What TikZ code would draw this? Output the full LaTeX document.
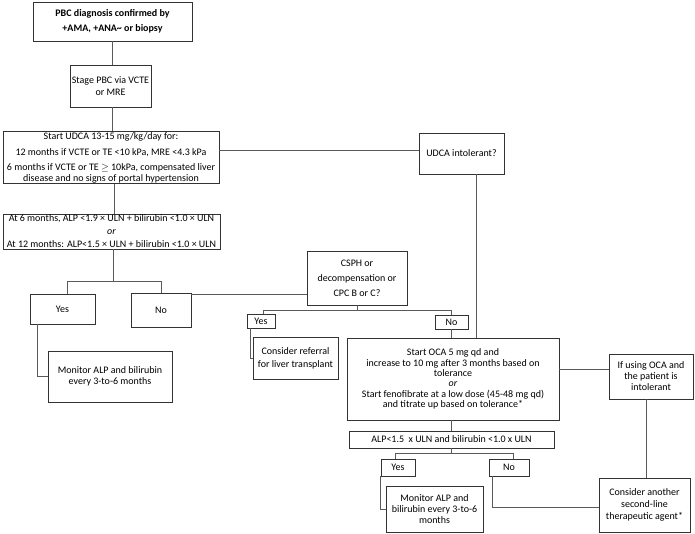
\documentclass[tikz,border=0pt]{standalone}
\usepackage{fontspec}
\setmainfont{Carlito}
\definecolor{boxcol}{HTML}{333333}
\definecolor{linecol}{HTML}{5A5A5A}
\tikzset{
  box/.style={draw=boxcol, line width=0.7pt, align=center, inner sep=1pt,
    font=\fontsize{10}{11}\selectfont, text=black},
  conn/.style={draw=linecol, line width=0.9pt}
}
\begin{document}
\begin{tikzpicture}[x=1pt,y=-1pt]
\useasboundingbox (0,0) rectangle (695,534);
\fill[white] (0,0) rectangle (695,534);
% nodes
\node[box, minimum width=159pt, minimum height=39pt, font=\fontsize{10}{11}\selectfont\bfseries] (diag) at (112.5,21.5)
  {PBC diagnosis confirmed by\\[4pt]+AMA, +ANA\textasciitilde{} or biopsy};
\node[box, minimum width=81pt, minimum height=42pt] (stage) at (110.5,86)
  {Stage PBC via VCTE\\[1pt]or MRE};
\node[box, minimum width=216pt, minimum height=49pt] (udca) at (111,157.5)
  {Start UDCA 13-15 mg/kg/day for:\\[5pt]12 months if VCTE or TE <10 kPa, MRE <4.3 kPa\\[4pt]6 months if VCTE or TE $\geq$ 10kPa, compensated liver\\disease and no signs of portal hypertension};
\node[box, minimum width=85pt, minimum height=41pt] (intol) at (461.5,153.5)
  {UDCA intolerant?};
\node[box, minimum width=217pt, minimum height=35pt] (alp1) at (111.5,231.5)
  {At 6 months, ALP <1.9 × ULN + bilirubin <1.0 × ULN\\[2pt]\textit{or}\\[2pt]At 12 months: ALP<1.5 × ULN + bilirubin <1.0 × ULN};
\node[box, minimum width=65pt, minimum height=30pt] (yes1) at (62.5,309) {Yes};
\node[box, minimum width=60pt, minimum height=34pt] (no1) at (161,310) {No};
\node[box, minimum width=124pt, minimum height=51pt] (mon1) at (110,376.5)
  {Monitor ALP and bilirubin\\every 3-to-6 months};
\node[box, minimum width=100pt, minimum height=54pt] (csph) at (357,278)
  {CSPH or\\[4pt]decompensation or\\[4pt]CPC B or C?};
\node[box, minimum width=28pt, minimum height=14pt] (yes2) at (261,321) {Yes};
\node[box, minimum width=33pt, minimum height=14pt] (no2) at (451.5,322) {No};
\node[box, minimum width=85pt, minimum height=42pt] (refer) at (295.5,358)
  {Consider referral\\[2pt]for liver transplant};
\node[box, minimum width=212pt, minimum height=82pt, font=\fontsize{10}{10.3}\selectfont] (oca) at (453,379)
  {Start OCA 5 mg qd and\\increase to 10 mg after 3 months based on\\tolerance\\\textit{or}\\Start fenofibrate at a low dose (45-48 mg qd)\\and titrate up based on tolerance*};
\node[box, minimum width=84pt, minimum height=45pt] (ifoca) at (651,376.5)
  {If using OCA and\\the patient is\\intolerant};
\node[box, minimum width=205pt, minimum height=17pt] (alp2) at (451.5,439.5)
  {ALP<1.5~ x ULN and bilirubin <1.0 x ULN};
\node[box, minimum width=34pt, minimum height=17pt] (yes3) at (398,467.5) {Yes};
\node[box, minimum width=40pt, minimum height=17pt] (no3) at (509,467.5) {No};
\node[box, minimum width=97pt, minimum height=46pt] (mon2) at (434.5,509)
  {Monitor ALP and\\bilirubin every 3-to-6\\months};
\node[box, minimum width=91pt, minimum height=54pt] (another) at (644.5,505)
  {Consider another\\[1pt]second-line\\[1pt]therapeutic agent*};
% connectors
\draw[conn] (diag.south) -- (diag.south |- stage.north);
\draw[conn] ([xshift=2pt]stage.south) -- ([xshift=2pt]stage.south |- udca.north);
\draw[conn] ([yshift=3.5pt]intol.west) -- ([yshift=3.5pt]intol.west -| udca.east);
\draw[conn] ([xshift=3pt]udca.south) -- ([xshift=3pt]udca.south |- alp1.north);
\coordinate (j1) at ([xshift=2pt,yshift=-32pt]alp1.south);
\draw[conn] ([xshift=2pt]alp1.south) -- (j1);
\draw[conn] ([xshift=4.5pt]yes1.north) |- (j1) -| (no1.north);
\draw[conn] ([yshift=-2pt]no1.north east) -- ([yshift=-2pt]no1.north east -| csph.west);
\draw[conn] ([xshift=8pt]yes1.south west) |- (mon1.west);
\coordinate (j2) at ([yshift=-5pt]csph.south);
\draw[conn] (csph.south) -- (j2);
\draw[conn] ([xshift=2pt]yes2.north) |- (j2) -| (no2.north);
\draw[conn] ([xshift=4pt]yes2.south west) |- (refer.west);
\draw[conn] (no2.south) -- (no2.south |- oca.north);
\coordinate (p) at ([xshift=14.5pt]intol.south);
\draw[conn] (p) -- (p |- oca.north);
\draw[conn] ([yshift=10pt]oca.east) -- ([yshift=10pt]oca.east -| ifoca.west);
\draw[conn] ([xshift=-5pt]ifoca.south) -- ([xshift=-5pt]ifoca.south |- another.north);
\draw[conn] ([xshift=-2pt]oca.south) -- ([xshift=-2pt]oca.south |- alp2.north);
\coordinate (j3) at ([yshift=-5pt]alp2.south);
\draw[conn] (alp2.south) -- (j3);
\draw[conn] ([xshift=-3pt]yes3.north) |- (j3) -| ([xshift=4pt]no3.north);
\draw[conn] (yes3.south west) |- (mon2.west);
\draw[conn] ([xshift=4pt]no3.south west) |- ([yshift=-2pt]another.west);
\end{tikzpicture}
\end{document}
